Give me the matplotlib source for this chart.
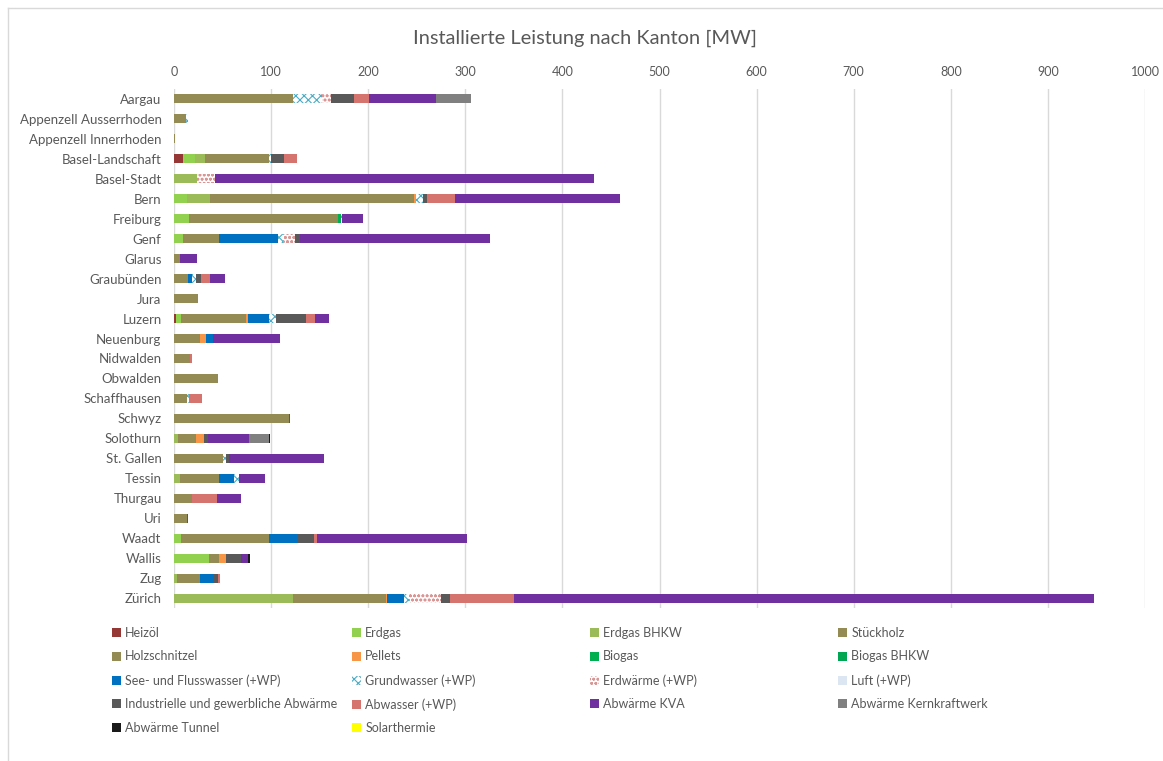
import numpy as np
import matplotlib
matplotlib.use('Agg')
import matplotlib.pyplot as plt
from matplotlib.patches import Patch
from matplotlib.lines import Line2D

plt.rcParams['font.family'] = ['Lato', 'DejaVu Sans']
plt.rcParams['hatch.linewidth'] = 0.8

# Kantone (oben -> unten)
kantone = ['Aargau', 'Appenzell Ausserrhoden', 'Appenzell Innerrhoden', 'Basel-Landschaft',
           'Basel-Stadt', 'Bern', 'Freiburg', 'Genf', 'Glarus', 'Graubünden', 'Jura', 'Luzern',
           'Neuenburg', 'Nidwalden', 'Obwalden', 'Schaffhausen', 'Schwyz', 'Solothurn',
           'St. Gallen', 'Tessin', 'Thurgau', 'Uri', 'Waadt', 'Wallis', 'Zug', 'Zürich']

# Installierte Leistung [MW] je Energieträger, Reihenfolge wie kantone
heizoel        = [0, 0, 0, 9.6, 0, 0, 0, 0, 0, 0, 0, 2.4, 0, 0, 0, 0, 0, 0, 0, 0, 0, 0, 0, 0, 0, 0]
erdgas         = [0, 0, 0, 12.4, 0, 13, 15.5, 9.6, 0, 0, 0, 4.8, 0, 0, 0, 0, 0, 0, 0, 0, 0, 0, 7.6, 36, 0, 0]
erdgas_bhkw    = [0, 0, 0, 10.3, 23.7, 24, 0, 0, 0, 0, 0, 0, 0, 0, 0, 0, 0, 3.8, 0, 6.2, 0, 0, 0, 0, 3.4, 123]
stueckholz     = [0] * 26
holzschnitzel  = [123, 12, 1, 65.6, 0, 210, 153.2, 36.4, 6.5, 14.4, 25, 67.4, 27, 16.8, 45, 13, 118,
                  19.2, 50.5, 39.8, 18.6, 13.4, 90.4, 10.7, 23.1, 95.6]
pellets        = [0, 0, 0, 0, 0, 2.7, 0, 0, 0, 0, 0, 1.4, 5.6, 0, 0, 0, 0, 8, 0, 0, 0, 0, 0, 6.9, 0, 1]
biogas         = [0, 0, 0, 0, 0, 0, 2.8, 0, 0, 0, 0, 0, 0, 0, 0, 0, 0, 0, 0, 0, 0, 0, 0, 0, 0, 0]
biogas_bhkw    = [0] * 26
seewasser      = [0, 0, 0, 0, 0, 0, 0, 61, 0, 4.2, 0, 21.6, 7.4, 0, 0, 0, 1.7, 0, 0, 15.5, 0, 0, 28.8, 0, 14.4, 17.2]
grundwasser    = [29.6, 2, 0, 1.5, 0, 6.7, 1.4, 5, 0, 4.4, 0, 7.2, 0, 0, 0, 2.5, 0, 0, 3.5, 5.2, 0, 0, 0, 0, 0, 5.2]
erdwaerme      = [9.4, 0, 0, 0, 19, 0, 0, 13, 0, 0, 0, 0, 0, 0, 0, 0, 0, 0, 0, 0, 0, 0, 0, 0, 0, 32.6]
luft           = [0] * 26
industrie      = [23, 0.8, 0, 14, 0, 4, 0, 4.5, 0, 4.5, 0, 31.6, 0, 0, 0, 0, 0, 3.7, 2.7, 0, 0, 1.4, 17.5, 15.4, 4.8, 9.7]
abwasser       = [15.7, 0, 0, 13.5, 0, 29, 0, 0, 0, 9.5, 0, 8.3, 0, 1.8, 0, 13.5, 0, 0, 0, 0, 25.4, 0, 2.7, 0, 1.3, 66.3]
kva            = [69, 0, 0, 0, 390, 169.5, 21.5, 196, 17.5, 15.6, 0, 14.8, 69, 0, 0, 0, 0, 42.3, 97.6, 27.5,
                  25.4, 0, 155, 7.6, 0, 597.2]
kernkraftwerk  = [36, 0, 0, 0, 0, 0, 0, 0, 0, 0, 0, 0, 0, 0, 0, 0, 0, 20.6, 0, 0, 0, 0, 0, 0, 0, 0]
tunnel         = [0, 0, 0, 0, 0, 0, 0, 0, 0, 0, 0, 0, 0, 0, 0, 0, 0, 1, 0, 0, 0, 0, 0, 1.8, 0, 0]
solarthermie   = [0] * 26

serien = [
    ('Heizöl', heizoel, '#953735', None, None),
    ('Erdgas', erdgas, '#92D050', None, None),
    ('Erdgas BHKW', erdgas_bhkw, '#9BBB59', None, None),
    ('Stückholz', stueckholz, '#948A54', None, None),
    ('Holzschnitzel', holzschnitzel, '#948A54', None, None),
    ('Pellets', pellets, '#F79646', None, None),
    ('Biogas', biogas, '#00B050', None, None),
    ('Biogas BHKW', biogas_bhkw, '#00A651', None, None),
    ('See- und Flusswasser (+WP)', seewasser, '#0070C0', None, None),
    ('Grundwasser (+WP)', grundwasser, 'white', 'xxxx', '#4BACC6'),
    ('Erdwärme (+WP)', erdwaerme, 'white', 'oooo', '#D99694'),
    ('Luft (+WP)', luft, '#DCE6F2', None, None),
    ('Industrielle und gewerbliche Abwärme', industrie, '#595959', None, None),
    ('Abwasser (+WP)', abwasser, '#D5736F', None, None),
    ('Abwärme KVA', kva, '#7030A0', None, None),
    ('Abwärme Kernkraftwerk', kernkraftwerk, '#808080', None, None),
    ('Abwärme Tunnel', tunnel, '#1A1A1A', None, None),
    ('Solarthermie', solarthermie, '#FFFF00', None, None),
]

W, H = 1163, 761
fig = plt.figure(figsize=(W / 100, H / 100), dpi=100)
fig.patch.set_facecolor('white')

# Rahmen (oben und links)
fig.add_artist(Line2D([8 / W, 1], [1 - 8 / H, 1 - 8 / H], color='#D9D9D9', lw=1))
fig.add_artist(Line2D([8 / W, 8 / W], [0, 1 - 8 / H], color='#D9D9D9', lw=1))

ax = fig.add_axes([174 / W, 1 - 608 / H, (1145 - 174) / W, (608 - 89) / H])

y = np.arange(len(kantone))
left = np.zeros(len(kantone))
handles = []
for name, werte, farbe, hatch, hcol in serien:
    werte = np.array(werte, dtype=float)
    if hatch:
        ax.barh(y, werte, left=left, height=0.45, color=farbe, hatch=hatch,
                edgecolor=hcol, linewidth=0)
        handles.append(Patch(facecolor=farbe, hatch=hatch, edgecolor=hcol, linewidth=0, label=name))
    else:
        ax.barh(y, werte, left=left, height=0.45, color=farbe, linewidth=0)
        handles.append(Patch(facecolor=farbe, linewidth=0, label=name))
    left += werte

ax.set_ylim(len(kantone) - 0.5, -0.5)
ax.set_xlim(0, 1000)
ax.set_xticks(np.arange(0, 1001, 100))
ax.set_yticks(y)
ax.set_yticklabels(kantone)
ax.xaxis.tick_top()
ax.tick_params(axis='x', length=0, pad=8, labelsize=9, labelcolor='#595959')
ax.tick_params(axis='y', length=0, pad=9, labelsize=9.5, labelcolor='#595959')
for s in ax.spines.values():
    s.set_visible(False)
ax.grid(axis='x', color='#D9D9D9', linewidth=1)
ax.set_axisbelow(True)

fig.text(585 / W, 1 - 38 / H, 'Installierte Leistung nach Kanton [MW]', ha='center', va='center',
         fontsize=14.4, color='#595959')

# Legende: 4 Spalten, zeilenweise gefüllt
spalten_x = [112, 352, 590, 838]
for c in range(4):
    hs = handles[c::4]
    leg = fig.legend(handles=hs, loc='upper left', bbox_to_anchor=(spalten_x[c] / W, 1 - 627 / H),
                     frameon=False, fontsize=9, handlelength=0.7, handleheight=0.7,
                     handletextpad=0.35, labelspacing=0.92, borderpad=0, borderaxespad=0)
    for t in leg.get_texts():
        t.set_color('#595959')

fig.savefig('out.png', dpi=100, facecolor='white')
